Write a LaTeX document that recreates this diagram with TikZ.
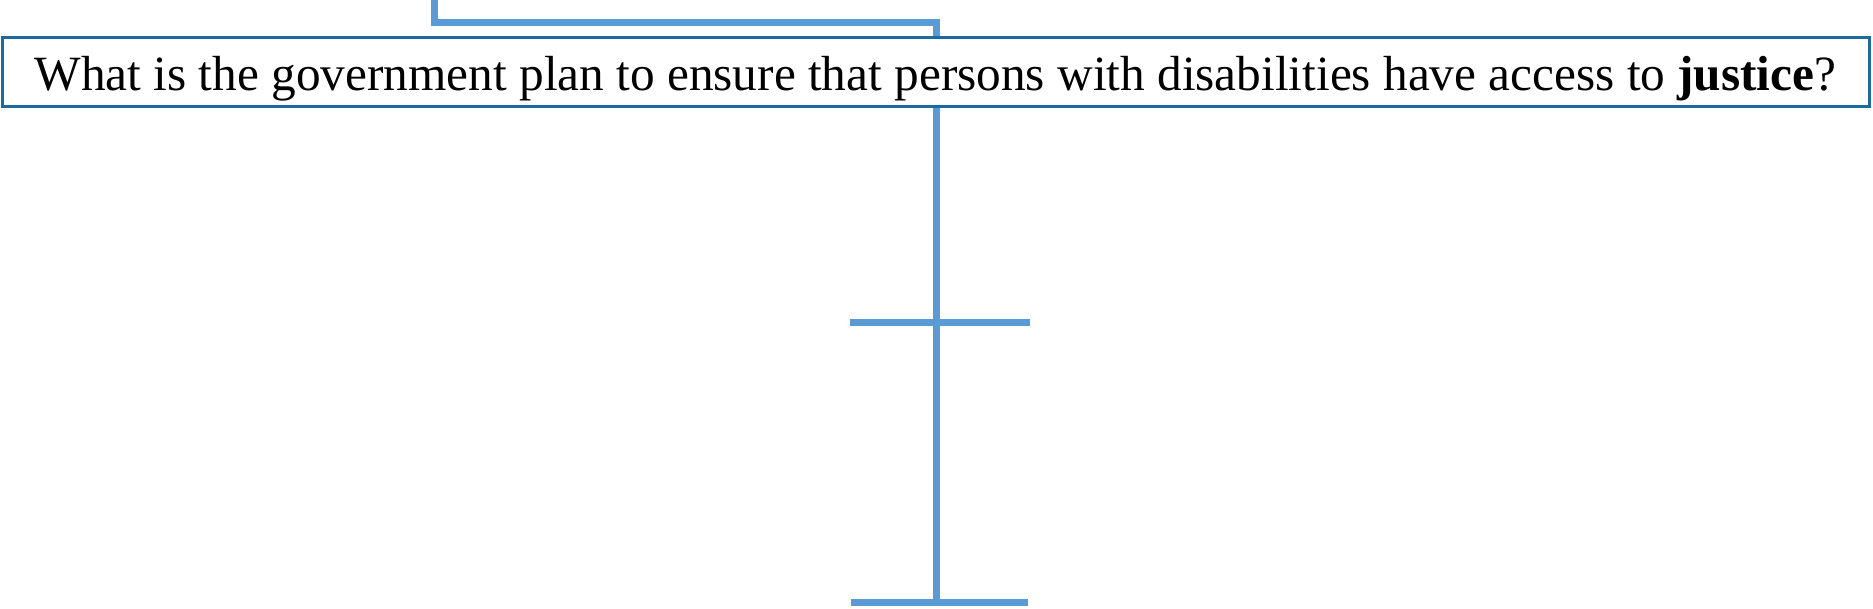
\documentclass[tikz,border=0pt]{standalone}
\usepackage{fontspec}
\setmainfont{Liberation Serif}
\definecolor{connblue}{HTML}{5B9BD5}
\definecolor{boxblue}{RGB}{30,106,158}
\begin{document}
\begin{tikzpicture}[x=1pt,y=-1pt,
        conn/.style={draw=connblue,line width=7pt},
        qbox/.style={draw=boxblue,line width=3pt,minimum width=1867pt,text height=53pt,text depth=16pt,inner sep=0pt,font=\fontsize{49.3}{59}\selectfont}]
        \useasboundingbox (0,0) rectangle (1873,609);
        \node[qbox](question) at (935.5,72){What is the government plan to ensure that persons with disabilities have access to \textbf{justice}?};
        \coordinate (feed) at (434,0);
        \coordinate (elbow) at (936,23);
        \coordinate (bot) at (936,602);
        \draw[conn](feed) |- (elbow) -- (elbow |- question.north);
        \draw[conn](elbow |- question.south) -- (bot);
        \foreach \y/\l/\r in {323/850/1030,602/851/1028}{
            \coordinate (barL) at (\l,\y);
            \coordinate (barR) at (\r,\y);
            \draw[conn](barL) -- (barR);
        }
    \end{tikzpicture}
\end{document}
